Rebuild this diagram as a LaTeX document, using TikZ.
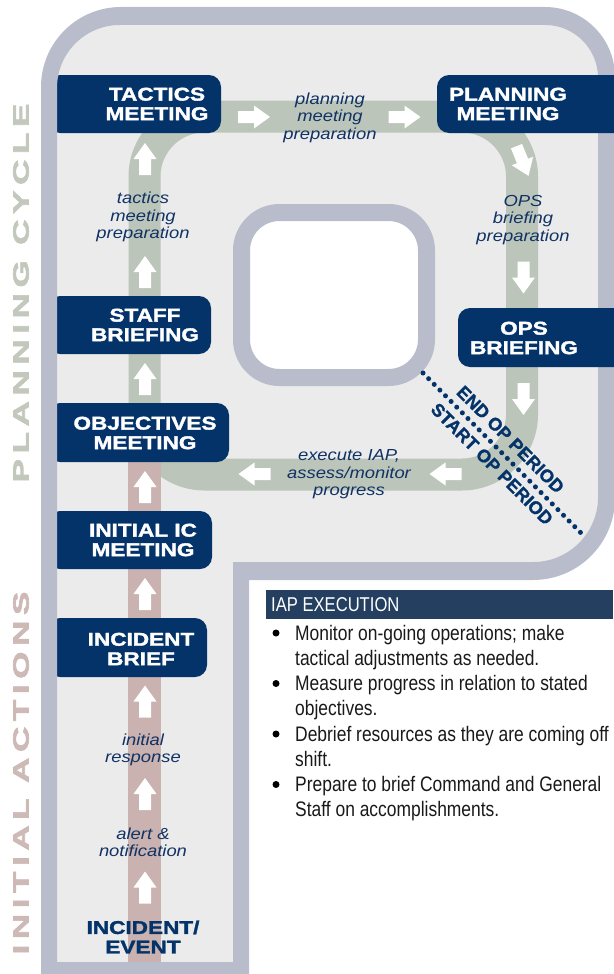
\documentclass[tikz,border=0pt]{standalone}
\usepackage{fontspec}
\setmainfont{Liberation Sans}
\newfontfamily\boxfont[FakeStretch=1.22,BoldFeatures={FakeBold=1.8}]{Liberation Sans}
\newfontfamily\labelfont[FakeStretch=1.15]{Liberation Sans}
\newfontfamily\narrowfont[FakeStretch=0.83]{Liberation Sans}
\newfontfamily\sidefont[FakeStretch=1.6,LetterSpace=25,BoldFeatures={FakeBold=3}]{Liberation Sans}
\newfontfamily\periodfont[BoldFeatures={FakeBold=1.2}]{Liberation Sans}
\definecolor{rim}{HTML}{B9BDCB}
\definecolor{inside}{HTML}{EBEBEB}
\definecolor{cyclegreen}{HTML}{BCC5B9}
\definecolor{initpink}{HTML}{C9B2AF}
\definecolor{navy}{HTML}{04336A}
\definecolor{headblue}{HTML}{243F60}
\definecolor{inknavy}{HTML}{103264}
\definecolor{sidegreen}{HTML}{C2C8BC}
\definecolor{sidepink}{HTML}{CDB9B6}
\begin{document}
\begin{tikzpicture}[x=1pt,y=-1pt,
  boxtext/.style={text=white,align=center,inner sep=0pt,font=\boxfont\bfseries\fontsize{18.5}{19.5}\selectfont},
  steptext/.style={text=inknavy,align=center,inner sep=0pt,font=\labelfont\itshape\fontsize{16}{17.5}\selectfont},
  periodtext/.style={text=navy,inner sep=0pt,rotate=-45,font=\periodfont\bfseries\fontsize{18}{18}\selectfont},
  sidetext/.style={rotate=90,inner sep=0pt,font=\sidefont\bfseries\fontsize{22}{22}\selectfont},
  itemtext/.style={anchor=north west,align=left,inner sep=0pt,text=black!90,font=\narrowfont\fontsize{21}{25.2}\selectfont},
  navybox/.style={fill=navy,rounded corners=12pt},
  blockup/.pic={\fill[white] (-6,16) -- (-6,0) -- (-11.5,0) -- (0,-16) -- (11.5,0) -- (6,0) -- (6,16) -- cycle;}]
\useasboundingbox (0,0) rectangle (613,974);
\fill[inside] (57,962) -- (57,88) arc[start angle=180,end angle=90,radius=63pt] -- (545,25)
  arc[start angle=90,end angle=0,radius=53pt] -- (598,497)
  arc[start angle=0,end angle=-90,radius=65pt] -- (233,562) -- (233,962) -- cycle;
\draw[rim,line width=17pt,fill=white,rounded corners=38pt] (241.5,212.5) rectangle (426.5,377.5);
\draw[cyclegreen,line width=32pt,rounded corners=60pt] (144.5,116.5) rectangle (522,474.5);
\fill[initpink] (128,462) rectangle (161,963);
\fill[navybox] (48,75) rectangle (221,133);
\fill[navybox] (48,296) rectangle (211,354);
\fill[navybox] (48,403) rectangle (229,462);
\fill[navybox] (48,511) rectangle (212,569);
\fill[navybox] (48,618) rectangle (207,677);
\fill[rim,even odd rule] (41,980) -- (41,87) arc[start angle=180,end angle=90,radius=80pt] -- (545,7)
  arc[start angle=90,end angle=0,radius=70pt] -- (615,498)
  arc[start angle=0,end angle=-90,radius=82pt] -- (249,580) -- (249,980) -- cycle
  (57,962) -- (57,88) arc[start angle=180,end angle=90,radius=63pt] -- (545,25)
  arc[start angle=90,end angle=0,radius=53pt] -- (598,497)
  arc[start angle=0,end angle=-90,radius=65pt] -- (233,562) -- (233,962) -- cycle;
\fill[navybox] (437,75) rectangle (630,133);
\fill[navybox] (458,308) rectangle (630,367);
\node[boxtext] (tactics) at (157,104) {TACTICS\\MEETING};
\node[boxtext] (planning) at (508,104) {PLANNING\\MEETING};
\node[boxtext] (staff) at (145,325) {STAFF\\BRIEFING};
\node[boxtext] (ops) at (524,338) {OPS\\BRIEFING};
\node[boxtext] (objectives) at (145,433) {OBJECTIVES\\MEETING};
\node[boxtext] (initialic) at (143,540) {INITIAL IC\\MEETING};
\node[boxtext] (brief) at (141,649) {INCIDENT\\BRIEF};
\node[boxtext,text=navy] (event) at (143,937) {INCIDENT/\\EVENT};
\foreach \y in {159,272,379,487,594,701.5,794,887.5}
  \pic at (145,\y) {blockup};
\foreach \x in {254,404.5}
  \pic[rotate=-90] at (\x,117) {blockup};
\foreach \y in {277.5,399}
  \pic[rotate=180] at (523.5,\y) {blockup};
\pic[rotate=-158] at (522.5,161) {blockup};
\foreach \x in {445.5,254.5}
  \pic[rotate=90] at (\x,474) {blockup};
\node[steptext] (planprep) at (330,117.5) {planning\\meeting\\preparation};
\node[steptext] (tacprep) at (143,217) {tactics\\meeting\\preparation};
\node[steptext] (opsprep) at (523,220) {OPS\\briefing\\preparation};
\node[steptext] (execute) at (349,474.5) {execute IAP,\\assess/monitor\\progress};
\node[steptext] (response) at (143,750) {initial\\response};
\node[steptext] (alert) at (143,842.5) {alert \&\\notification};
\coordinate (cutA) at (423,373);
\coordinate (cutB) at (581,533);
\draw[navy,line width=5pt,line cap=round,dash pattern=on 0pt off 8pt] (cutA) -- (cutB);
\node[periodtext] (endop) at (510.5,439.5) {END OP PERIOD};
\node[periodtext] (startop) at (492,464) {START OP PERIOD};
\node[sidetext,text=sidegreen] (planside) at (21,293) {PLANNING CYCLE};
\node[sidetext,text=sidepink] (initside) at (21,773) {INITIAL ACTIONS};
\fill[headblue] (266,590) rectangle (613,619);
\node[anchor=west,text=white,inner sep=0pt,font=\narrowfont\fontsize{20}{20}\selectfont] (iaphead) at (271,604.5) {IAP EXECUTION};
\foreach \txt [count=\i] in {{Monitor on-going operations; make\\tactical adjustments as needed.},
  {Measure progress in relation to stated\\objectives.},
  {Debrief resources as they are coming off\\shift.},
  {Prepare to brief Command and General\\Staff on accomplishments.}}
{
  \fill[black] (276,{633+50.5*(\i-1)}) circle (3.5pt);
  \node[itemtext] (item\i) at (295,{624.7+50.5*(\i-1)}) {\txt};
}
\end{tikzpicture}
\end{document}
